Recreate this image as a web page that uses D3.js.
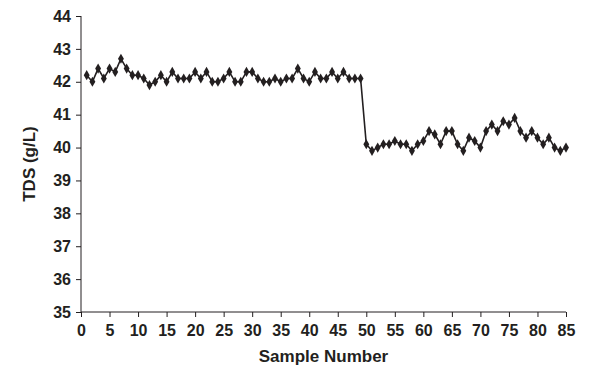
<!DOCTYPE html>
<html>
<head>
<meta charset="utf-8">
<script src="https://cdn.jsdelivr.net/npm/d3@7"></script>
<style>
  body { margin: 0; background: #fff; }
  text { font-family: "Liberation Sans", Arial, sans-serif; font-weight: bold; fill: #231f20; }
</style>
</head>
<body>
<svg id="chart" width="593" height="376"></svg>
<script>
// TDS readings, samples 1..49 (before the drop) and 50..85 (after)
const tdsBefore = [
  42.2, 42.0, 42.4, 42.1, 42.4, 42.3, 42.7, 42.4, 42.2, 42.2,
  42.1, 41.9, 42.0, 42.2, 42.0, 42.3, 42.1, 42.1, 42.1, 42.3,
  42.1, 42.3, 42.0, 42.0, 42.1, 42.3, 42.0, 42.0, 42.3, 42.3,
  42.1, 42.0, 42.0, 42.1, 42.0, 42.1, 42.1, 42.4, 42.1, 42.0,
  42.3, 42.1, 42.1, 42.3, 42.1, 42.3, 42.1, 42.1, 42.1
];
const tdsAfter = [
  40.1, 39.9, 40.0, 40.1, 40.1, 40.2, 40.1, 40.1, 39.9, 40.1,
  40.2, 40.5, 40.4, 40.1, 40.5, 40.5, 40.1, 39.9, 40.3, 40.2,
  40.0, 40.5, 40.7, 40.5, 40.8, 40.7, 40.9, 40.5, 40.3, 40.5,
  40.3, 40.1, 40.3, 40.0, 39.9, 40.0
];
const xTicks = d3.range(0, 86, 5);
const yTicks = d3.range(35, 45, 1);

const tds = tdsBefore.concat(tdsAfter);
const data = tds.map((v, i) => ({ sample: i + 1, value: v }));

const svg = d3.select('#chart');
const margin = { top: 16, right: 27, bottom: 64, left: 81 };
const width = 593 - margin.left - margin.right;
const height = 376 - margin.top - margin.bottom;

const g = svg.append('g')
  .attr('transform', `translate(${margin.left},${margin.top})`);

const x = d3.scaleLinear().domain([0, 85]).range([0, width]);
const y = d3.scaleLinear().domain([35, 44]).range([height, 0]);

// axes
const xAxis = g.append('g')
  .attr('transform', `translate(0,${height})`)
  .call(d3.axisBottom(x).tickValues(xTicks).tickSize(5).tickPadding(8));
const yAxis = g.append('g')
  .call(d3.axisLeft(y).tickValues(yTicks).tickSize(5).tickPadding(5));

[xAxis, yAxis].forEach(a => {
  a.selectAll('path, line').attr('stroke', '#231f20').attr('stroke-width', 1);
  a.selectAll('text').style('font-size', '16px');
});
xAxis.select('.domain').attr('d', `M0,0H${width}`);
yAxis.select('.domain').attr('d', `M0,${height}V0`);

// axis titles
svg.append('text')
  .attr('x', margin.left + width / 2)
  .attr('y', 362)
  .attr('text-anchor', 'middle')
  .style('font-size', '17px')
  .text('Sample Number');

svg.append('text')
  .attr('transform', `translate(35,${margin.top + height / 2}) rotate(-90)`)
  .attr('text-anchor', 'middle')
  .style('font-size', '17px')
  .text('TDS (g/L)');

// line + diamond markers
const line = d3.line()
  .x(d => x(d.sample))
  .y(d => y(d.value));

g.append('path')
  .datum(data)
  .attr('fill', 'none')
  .attr('stroke', '#231f20')
  .attr('stroke-width', 1.6)
  .attr('d', line);

const diamond = d3.symbol().type(d3.symbolDiamond).size(30);
g.selectAll('.pt')
  .data(data)
  .enter()
  .append('path')
  .attr('class', 'pt')
  .attr('transform', d => `translate(${x(d.sample)},${y(d.value)})`)
  .attr('d', diamond)
  .attr('fill', '#231f20');
</script>
</body>
</html>
